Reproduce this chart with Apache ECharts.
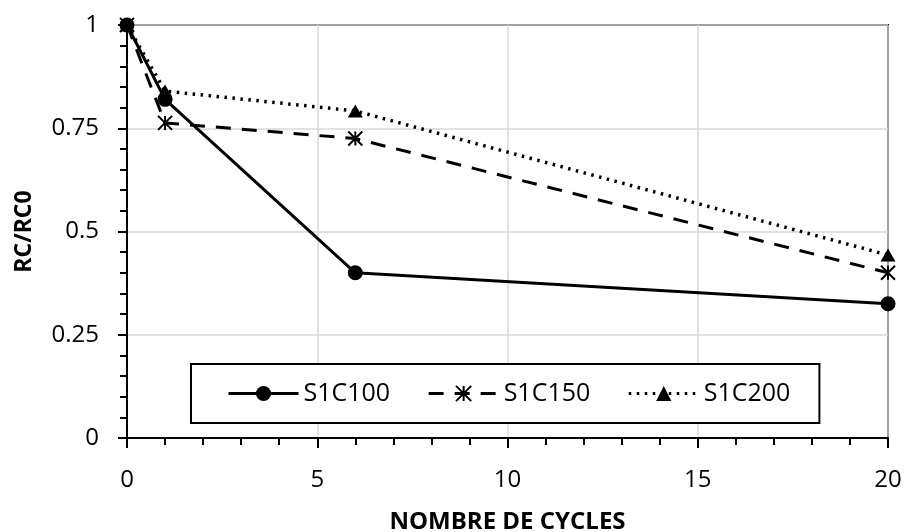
<!DOCTYPE html>
<html>
<head>
<meta charset="utf-8">
<script src="https://cdn.jsdelivr.net/npm/echarts@6/dist/echarts.min.js"></script>
<style>html,body{margin:0;padding:0;background:#fff}#c{width:906px;height:532px}</style>
</head>
<body>
<div id="c"></div>
<script>
const cycles = [0, 1, 6, 20];
const s1c100 = [1, 0.82, 0.40, 0.325];
const s1c150 = [1, 0.763, 0.725, 0.40];
const s1c200 = [1, 0.84, 0.792, 0.443];
const seriesNames = ['S1C100', 'S1C150', 'S1C200'];
const xTitle = 'NOMBRE DE CYCLES';
const yTitle = 'RC/RC0';

const FONT = 'Open Sans';
const pairs = (ys) => cycles.map((x, i) => [x, ys[i]]);
const starPath = 'path://M0,0 L10,10 M10,0 L0,10 M5,0 L5,10';

const chart = echarts.init(document.getElementById('c'), null, {renderer: 'canvas'});
chart.setOption({
  animation: false,
  backgroundColor: '#fff',
  grid: {left: 127, right: 18, top: 25, bottom: 94, show: true, borderColor: '#000', borderWidth: 2,
         containLabel: false, outerBoundsMode: 'none'},
  xAxis: {
    type: 'value', min: 0, max: 20, interval: 5,
    name: xTitle, nameLocation: 'middle', nameGap: 72,
    nameTextStyle: {fontFamily: FONT, fontWeight: 'bold', fontSize: 24, color: '#000'},
    axisLine: {onZero: false, lineStyle: {color: '#000', width: 2}},
    axisTick: {show: true, length: 10, lineStyle: {color: '#000', width: 2}},
    minorTick: {show: true, splitNumber: 5, length: 7, lineStyle: {color: '#000', width: 2}},
    splitLine: {show: true, lineStyle: {color: '#d9d9d9', width: 1.5}},
    axisLabel: {fontFamily: FONT, fontSize: 24, color: '#000', margin: 30}
  },
  yAxis: {
    type: 'value', min: 0, max: 1, interval: 0.25,
    name: yTitle, nameLocation: 'middle', nameGap: 91,
    nameTextStyle: {fontFamily: FONT, fontWeight: 'bold', fontSize: 23, color: '#000'},
    axisLine: {onZero: false, lineStyle: {color: '#000', width: 2}},
    axisTick: {show: true, length: 9, lineStyle: {color: '#000', width: 2}},
    minorTick: {show: true, splitNumber: 5, length: 7, lineStyle: {color: '#000', width: 2}},
    splitLine: {show: true, lineStyle: {color: '#d9d9d9', width: 1.5}},
    axisLabel: {fontFamily: FONT, fontSize: 24, color: '#000', margin: 28}
  },
  legend: {
    left: 191, top: 364,
    padding: [17, 29, 17, 36],
    backgroundColor: '#fff', borderColor: '#000', borderWidth: 2,
    itemWidth: 70, itemHeight: 19, itemGap: 37,
    lineStyle: {width: 3},
    textStyle: {fontFamily: FONT, fontSize: 25, color: '#000'},
    data: seriesNames
  },
  series: [
    {
      name: seriesNames[0], type: 'line', data: pairs(s1c100),
      symbol: 'circle', symbolSize: 15,
      lineStyle: {color: '#000', width: 3, type: 'solid'},
      itemStyle: {color: '#000'}
    },
    {
      name: seriesNames[1], type: 'line', data: pairs(s1c150),
      symbol: starPath, symbolSize: 14,
      lineStyle: {color: '#000', width: 3, type: [15, 11]},
      itemStyle: {color: 'none', borderColor: '#000', borderWidth: 2}
    },
    {
      name: seriesNames[2], type: 'line', data: pairs(s1c200),
      symbol: 'triangle', symbolSize: [15, 13],
      lineStyle: {color: '#000', width: 3.5, type: [2.5, 5.5]},
      itemStyle: {color: '#000'}
    }
  ]
});
</script>
</body>
</html>
